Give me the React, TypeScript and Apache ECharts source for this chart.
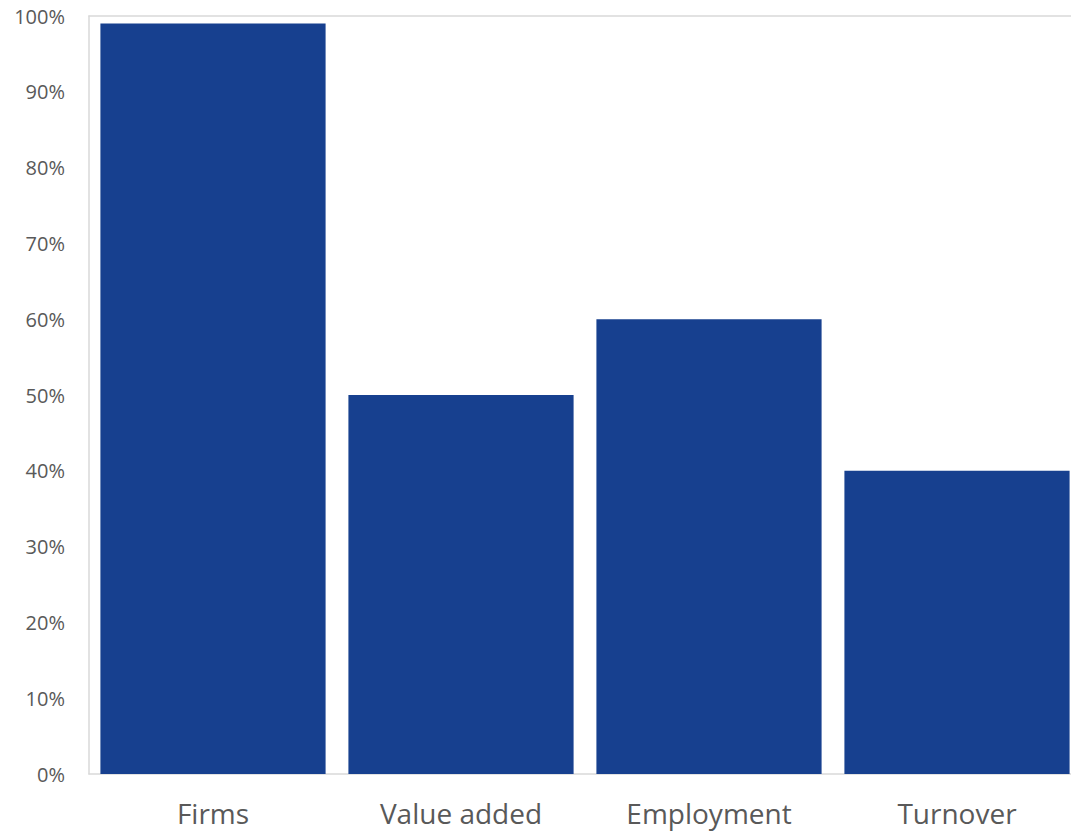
import React, { useEffect, useRef } from "react";
import * as echarts from "echarts";

const categories = ["Firms", "Value added", "Employment", "Turnover"];
const shares = [99, 50, 60, 40];
const yTicks = [0, 10, 20, 30, 40, 50, 60, 70, 80, 90, 100];

export default function App() {
  const ref = useRef<HTMLDivElement>(null);
  useEffect(() => {
    const chart = echarts.init(ref.current!, null, { renderer: "svg" });
    chart.setOption({
      animation: false,
      backgroundColor: "#ffffff",
      grid: { left: 89, right: 0, top: 16, bottom: 58, containLabel: false },
      xAxis: [
        {
          type: "category",
          data: categories,
          axisLine: { show: true, lineStyle: { color: "#d9d9d9", width: 1.5 } },
          axisTick: { show: false },
          axisLabel: {
            color: "#595959",
            fontFamily: "Open Sans",
            fontSize: 28,
            margin: 25,
          },
        },
        {
          type: "category",
          position: "top",
          data: categories,
          axisLine: { show: true, lineStyle: { color: "#d9d9d9", width: 1.5 } },
          axisTick: { show: false },
          axisLabel: { show: false },
        },
      ],
      yAxis: {
        type: "value",
        min: yTicks[0],
        max: yTicks[yTicks.length - 1],
        interval: 10,
        axisLine: { show: true, lineStyle: { color: "#d9d9d9", width: 1.5 } },
        axisTick: { show: false },
        splitLine: { show: false },
        axisLabel: {
          color: "#595959",
          fontFamily: "Open Sans",
          fontSize: 20,
          margin: 24,
          formatter: (v: number) => `${v}%`,
        },
      },
      series: [
        {
          type: "bar",
          data: shares,
          barCategoryGap: "9.2%",
          itemStyle: { color: "#17408f" },
        },
      ],
    });
    return () => chart.dispose();
  }, []);
  return (
    <div
      style={{
        position: "fixed",
        left: 0,
        top: 0,
        width: 1071,
        height: 832,
        overflow: "hidden",
        background: "#ffffff",
      }}
    >
      <div ref={ref} style={{ width: 1081, height: 832 }} />
    </div>
  );
}
